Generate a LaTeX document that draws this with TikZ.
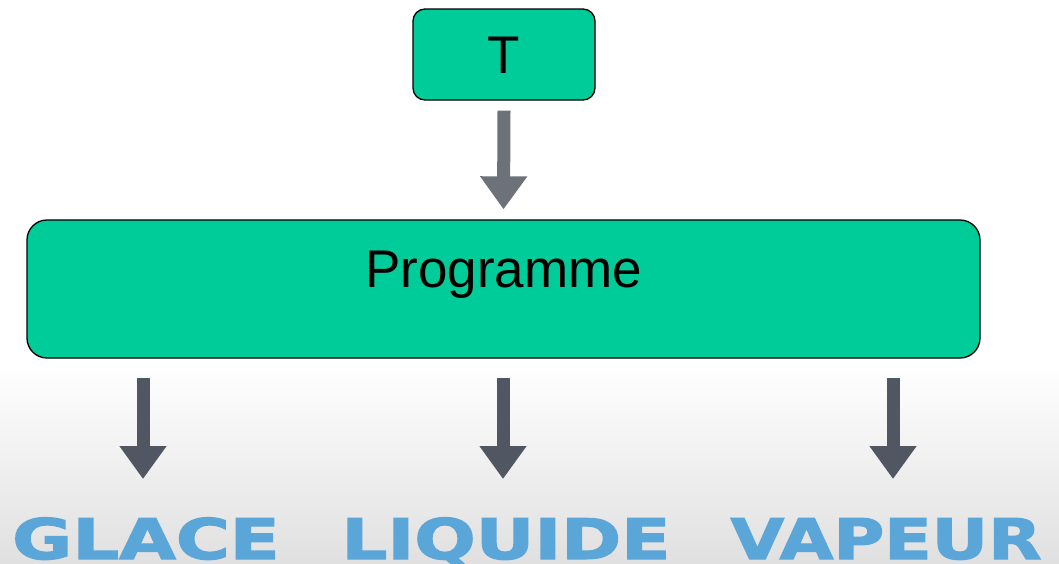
\documentclass[tikz,border=0pt]{standalone}
\usepackage{fontspec}
\setmainfont{Liberation Sans}
\newfontfamily\heavyfont{DejaVu Sans Bold}[FakeBold=2]
\usetikzlibrary{arrows.meta}
\definecolor{boxgreen}{RGB}{0,204,153}
\definecolor{arrowgrey}{RGB}{108,113,122}
\definecolor{arrowdark}{RGB}{80,86,98}
\definecolor{phaseblue}{RGB}{90,166,216}
\definecolor{floorgrey}{RGB}{224,224,224}
\newcommand{\widephase}[1]{\scalebox{#1}[1]}
\tikzset{
  greenbox/.style={draw=black, line width=1.3pt, fill=boxgreen, inner sep=0pt},
  blockarrow/.style={line width=13pt,
    -{Triangle[width=45pt,length=33pt]}},
  phase/.style={text=phaseblue, inner sep=0pt, anchor=base,
    text height=41pt, text depth=0pt,
    font=\heavyfont\fontsize{56}{66}\selectfont},
}
\begin{document}
\begin{tikzpicture}[x=1pt, y=-1pt]
  \useasboundingbox (0,0) rectangle (1059,563);
  \clip (0,0) rectangle (1059,563);
  % backdrop: white fading to light grey towards the bottom
  \fill[white] (0,0) rectangle (1059,563);
  \shade[top color=white, bottom color=floorgrey] (0,365) rectangle (1059,563);

  % input and program boxes
  \node[greenbox, rounded corners=12pt, minimum width=182pt, minimum height=91pt,
        font=\fontsize{53}{60}\selectfont,
        text height=38pt, text depth=0pt] (T) at (504,54.5) {T};
  \node[greenbox, rounded corners=20pt, minimum width=953pt, minimum height=138pt,
        font=\fontsize{53}{60}\selectfont,
        text height=38pt, text depth=42pt] (P) at (503.5,289) {Programme};

  % outputs
  \node[phase] (glace)   at (146,559) {\widephase{1.31}{GLACE}};
  \node[phase] (liquide) at (506,559) {\widephase{1.29}{LIQUIDE}};
  \node[phase] (vapeur)  at (886,559) {\widephase{1.24}{VAPEUR}};

  % arrow ends above each output
  \coordinate (gEnd) at (143,479);
  \coordinate (lEnd) at (503,479);
  \coordinate (vEnd) at (893,479);

  % connectors
  \draw[blockarrow, arrowgrey] ([yshift=-10pt]T.south) -- ([yshift=10pt]P.north);
  \draw[blockarrow, arrowdark] (P.south -| gEnd) ++(0,19) -- (gEnd);
  \draw[blockarrow, arrowdark] (P.south -| lEnd) ++(0,19) -- (lEnd);
  \draw[blockarrow, arrowdark] (P.south -| vEnd) ++(0,19) -- (vEnd);
\end{tikzpicture}
\end{document}
